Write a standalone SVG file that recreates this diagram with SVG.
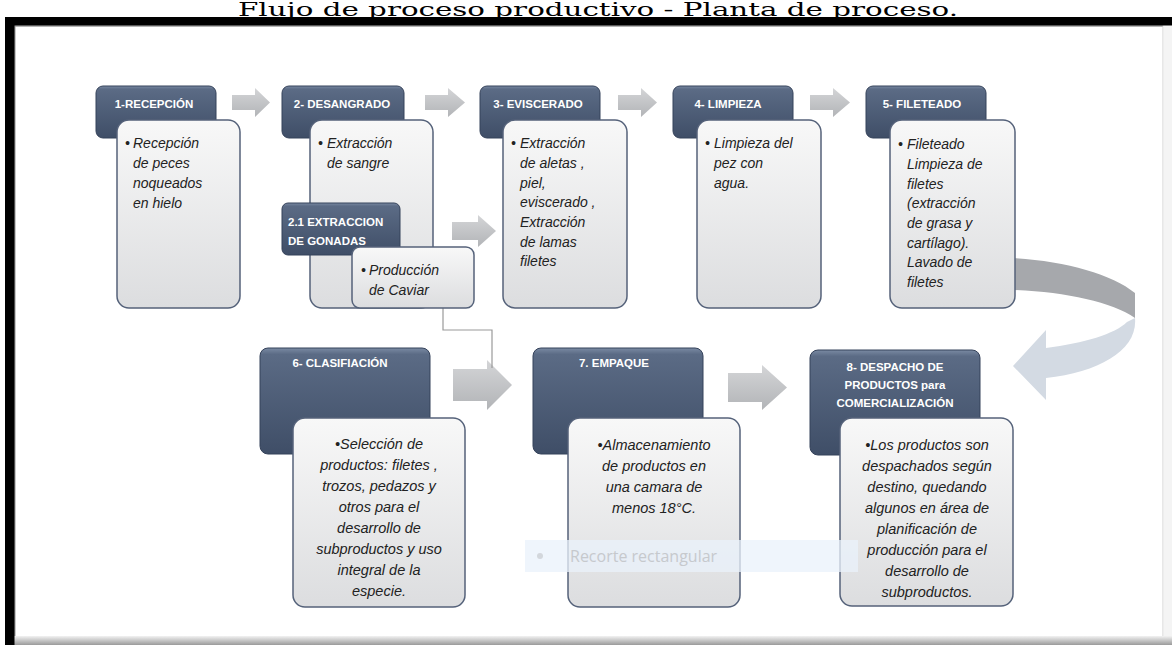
<svg xmlns="http://www.w3.org/2000/svg" width="1172" height="645" viewBox="0 0 1172 645">
<defs>
<linearGradient id="gHdr" x1="0" y1="0" x2="0" y2="1">
<stop offset="0" stop-color="#7a8aa3"/><stop offset="0.06" stop-color="#5b6b85"/><stop offset="1" stop-color="#3f4e67"/>
</linearGradient>
<linearGradient id="gBody" x1="0" y1="0" x2="0" y2="1">
<stop offset="0" stop-color="#f8f8f8"/><stop offset="1" stop-color="#dcdddf"/>
</linearGradient>
<linearGradient id="gArr" x1="0" y1="0" x2="0" y2="1">
<stop offset="0" stop-color="#d4d5d7"/><stop offset="1" stop-color="#b2b4b7"/>
</linearGradient>
<linearGradient id="gBot" x1="0" y1="0" x2="0" y2="1">
<stop offset="0" stop-color="#f2f2f2"/><stop offset="1" stop-color="#9a9a9a"/>
</linearGradient>
<style>
.hdr{fill:url(#gHdr);stroke:#35425a;stroke-width:1}
.body{fill:url(#gBody);stroke:#55627a;stroke-width:1.5}
.arr{fill:url(#gArr)}
.ht{font-family:"Liberation Sans",Arial,sans-serif;font-weight:bold;font-size:11.5px;fill:#ffffff}
.bt{font-family:"Liberation Sans",Arial,sans-serif;font-style:italic;font-size:14px;fill:#222222}
.bt2{font-family:"Liberation Sans",Arial,sans-serif;font-style:italic;font-size:14.5px;fill:#222222;text-anchor:middle}
.c{text-anchor:middle}
.conn{fill:none;stroke:#9a9a9a;stroke-width:1.2}
</style>
</defs>
<rect x="0" y="0" width="1172" height="645" fill="#ffffff"/>
<g id="frame">
<rect x="14" y="25" width="1149" height="611" fill="#ffffff"/>
<line x1="14" y1="26" x2="1163" y2="26" stroke="#9a9a9a" stroke-width="1.5"/>
<line x1="14.8" y1="25" x2="14.8" y2="636" stroke="#9a9a9a" stroke-width="1.5"/>
<line x1="1163" y1="25" x2="1163" y2="636" stroke="#cfcfcf" stroke-width="1"/>
<rect x="1163.5" y="25" width="8.5" height="620" fill="#f4f4f4"/>
<rect x="14" y="636" width="1158" height="9" fill="url(#gBot)"/>
<rect x="5" y="17" width="1167" height="8.5" fill="#000000"/>
<rect x="5" y="17" width="9.5" height="628" fill="#000000"/>
</g>
<text x="598" y="16" font-family="DejaVu Serif,serif" font-size="19" text-anchor="middle" textLength="720" lengthAdjust="spacingAndGlyphs" fill="#000000">Flujo de proceso productivo - Planta de proceso.</text>

<g id="connectors">
<path class="arr" d="M232,95 H255 V88 L270,102.5 L255,117 V110 H232 Z"/>
<path class="arr" d="M425,95 H448 V88 L465,102.5 L448,117 V110 H425 Z"/>
<path class="arr" d="M618,95 H641 V88 L657,102.5 L641,117 V110 H618 Z"/>
<path class="arr" d="M810,95 H833 V88 L850,102.5 L833,117 V110 H810 Z"/>
<path class="arr" d="M452,222 H478 V215 L496,231 L478,247 V240 H452 Z"/>
<path class="arr" d="M453,369 H487 V360 L512,385 L487,410 V401 H453 Z"/>
<path class="arr" d="M728,373 H762 V365 L787,387.5 L762,410 V402 H728 Z"/>
<polyline class="conn" points="443,308 443,330 492,330 492,368"/>
<path d="M1013,258 C1065,261 1112,274 1135,293 L1135,318 C1112,302 1065,292 1013,290 Z" fill="#a6a8ac"/>
<path d="M1135,318 C1138,350 1100,372 1046,378 L1046,400 L1013,366 L1046,330 L1046,348 C1084,343 1115,334 1127,322 Z" fill="#d3dae3"/>
</g>

<g id="n1">
<rect class="hdr" x="96" y="86" width="120" height="52" rx="7"/>
<text class="ht c" x="154" y="108">1-RECEPCIÓN</text>
<rect class="body" x="117" y="120" width="123" height="188" rx="12"/>
<text class="bt"><tspan x="125" y="148">•</tspan><tspan x="133" y="148">Recepción</tspan><tspan x="133" y="168">de peces</tspan><tspan x="133" y="188">noqueados</tspan><tspan x="133" y="208">en hielo</tspan></text>
</g>

<g id="n2">
<rect class="hdr" x="282" y="86" width="122" height="52" rx="7"/>
<text class="ht c" x="342" y="108">2- DESANGRADO</text>
<rect class="body" x="310" y="120" width="123" height="188" rx="12"/>
<text class="bt"><tspan x="318" y="148">•</tspan><tspan x="327" y="148">Extracción</tspan><tspan x="327" y="168">de sangre</tspan></text>
</g>

<g id="n21">
<rect class="hdr" x="282" y="203" width="118" height="52" rx="6"/>
<text class="ht"><tspan x="288" y="226">2.1 EXTRACCION</tspan><tspan x="288" y="245">DE  GONADAS</tspan></text>
<rect class="body" x="352" y="247" width="122" height="61" rx="8"/>
<text class="bt"><tspan x="361" y="275">•</tspan><tspan x="369" y="275">Producción</tspan><tspan x="369" y="295">de Caviar</tspan></text>
</g>

<g id="n3">
<rect class="hdr" x="480" y="86" width="120" height="52" rx="7"/>
<text class="ht c" x="538" y="108">3- EVISCERADO</text>
<rect class="body" x="503" y="120" width="124" height="188" rx="12"/>
<text class="bt"><tspan x="511" y="148">•</tspan><tspan x="520" y="148">Extracción</tspan><tspan x="520" y="168">de  aletas ,</tspan><tspan x="520" y="188">piel,</tspan><tspan x="520" y="207">eviscerado ,</tspan><tspan x="520" y="227">Extracción</tspan><tspan x="520" y="247">de lamas</tspan><tspan x="520" y="266">filetes</tspan></text>
</g>

<g id="n4">
<rect class="hdr" x="673" y="86" width="120" height="52" rx="7"/>
<text class="ht c" x="728" y="108">4- LIMPIEZA</text>
<rect class="body" x="697" y="120" width="124" height="188" rx="12"/>
<text class="bt"><tspan x="705" y="148">•</tspan><tspan x="714" y="148">Limpieza del</tspan><tspan x="714" y="168">pez con</tspan><tspan x="714" y="188">agua.</tspan></text>
</g>

<g id="n5">
<rect class="hdr" x="866" y="86" width="120" height="52" rx="7"/>
<text class="ht c" x="922" y="108">5- FILETEADO</text>
<rect class="body" x="890" y="120" width="125" height="188" rx="12"/>
<text class="bt"><tspan x="898" y="149">•</tspan><tspan x="907" y="149">Fileteado</tspan><tspan x="907" y="169">Limpieza de</tspan><tspan x="907" y="189">filetes</tspan><tspan x="907" y="208">(extracción</tspan><tspan x="907" y="228">de grasa y</tspan><tspan x="907" y="248">cartílago).</tspan><tspan x="907" y="267">Lavado de</tspan><tspan x="907" y="287">filetes</tspan></text>
</g>

<g id="n6">
<rect class="hdr" x="260" y="348" width="170" height="106" rx="8"/>
<text class="ht c" x="340" y="367">6- CLASIFIACIÓN</text>
<rect class="body" x="293" y="418" width="172" height="189" rx="12"/>
<text class="bt2"><tspan x="379" y="449">•Selección de</tspan><tspan x="379" y="470">productos: filetes ,</tspan><tspan x="379" y="491">trozos, pedazos  y</tspan><tspan x="379" y="512">otros  para el</tspan><tspan x="379" y="533">desarrollo de</tspan><tspan x="379" y="554">subproductos y uso</tspan><tspan x="379" y="575">integral de la</tspan><tspan x="379" y="596">especie.</tspan></text>
</g>

<g id="n7">
<rect class="hdr" x="533" y="348" width="170" height="106" rx="8"/>
<text class="ht c" x="614" y="367">7. EMPAQUE</text>
<rect class="body" x="568" y="418" width="172" height="189" rx="12"/>
<text class="bt2"><tspan x="654" y="450">•Almacenamiento</tspan><tspan x="654" y="471">de productos en</tspan><tspan x="654" y="492">una camara de</tspan><tspan x="654" y="513">menos 18°C.</tspan></text>
</g>

<g id="n8">
<rect class="hdr" x="810" y="350" width="170" height="105" rx="8"/>
<text class="ht c"><tspan x="895" y="371">8- DESPACHO DE</tspan><tspan x="895" y="389">PRODUCTOS  para</tspan><tspan x="895" y="407">COMERCIALIZACIÓN</tspan></text>
<rect class="body" x="840" y="418" width="173" height="188" rx="12"/>
<text class="bt2"><tspan x="927" y="450">•Los productos son</tspan><tspan x="927" y="471">despachados según</tspan><tspan x="927" y="492">destino, quedando</tspan><tspan x="927" y="513">algunos en área de</tspan><tspan x="927" y="534">planificación de</tspan><tspan x="927" y="555">producción para  el</tspan><tspan x="927" y="576">desarrollo de</tspan><tspan x="927" y="597">subproductos.</tspan></text>
</g>

<g id="ghost">
<rect x="525" y="540" width="333" height="32" fill="#eaf2fb" fill-opacity="0.75"/>
<circle cx="540" cy="556" r="3" fill="#d3d7dc"/>
<text x="570" y="562" font-family="Open Sans,sans-serif" font-size="16" fill="#c6c9cd">Recorte rectangular</text>
</g>
</svg>
